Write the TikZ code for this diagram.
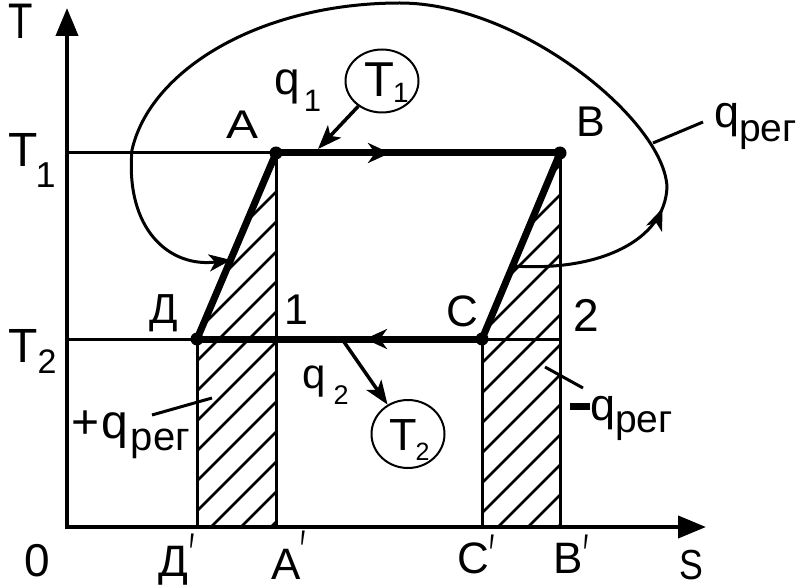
\documentclass[tikz,border=0pt]{standalone}
\usepackage{fontspec}
\setmainfont{Liberation Sans}
\usetikzlibrary{arrows.meta,decorations.markings,shapes.geometric}
\newcommand\fs[1]{\fontsize{#1}{#1}\selectfont}
\newcommand\prm[1]{\raisebox{#1}{\scalebox{0.5}[1]{\fs{56}′}}}
\begin{document}
\begin{tikzpicture}[x=1pt,y=-1pt,
  thinl/.style={line width=3pt},
  axisl/.style={line width=4pt,-{Triangle[length=28pt,width=22pt]}},
  thickl/.style={line width=7pt},
  hatchl/.style={line width=2.5pt},
  curvel/.style={line width=3pt},
  dot/.style={circle,fill=black,inner sep=0pt,minimum size=13pt},
  lbl/.style={inner sep=0pt},
  heat/.style={ellipse,draw,line width=2pt,minimum width=73pt,minimum height=63pt,inner sep=0pt},
  arr/.style={line width=3.5pt,-{Stealth[length=24pt,width=18pt,inset=6pt]}},
  midarr/.style={decoration={markings,mark=at position #1 with {\arrow{Stealth[length=22pt,width=20pt,inset=7pt]}}},postaction={decorate}},
]
\useasboundingbox (0,0) rectangle (803,588);

% points
\coordinate (O) at (67,527);
\coordinate (Tend) at (67,8);
\coordinate (Send) at (706,527);
\coordinate (Ax) at (276,153);
\coordinate (Bx) at (560,153);
\coordinate (Cx) at (482,339);
\coordinate (Dx) at (197,339);
\coordinate (Ap) at (276,527);
\coordinate (Bp) at (560,527);
\coordinate (Cp) at (482,527);
\coordinate (Dp) at (197,527);
\coordinate (T1ax) at (65,153);
\coordinate (T2ax) at (65,339);
\coordinate (P2) at (560,339);

% hatching
\begin{scope}
\clip (Ax) -- (Dx) -- (Dp) -- (Ap) -- cycle;
\foreach \c in {408,438,...,828} \draw[hatchl] ({\c},0) -- ({\c-600},600);
\end{scope}
\begin{scope}
\clip (Bx) -- (Cx) -- (Cp) -- (Bp) -- cycle;
\foreach \c in {725,755,...,1115} \draw[hatchl] ({\c},0) -- ({\c-600},600);
\end{scope}

% thin lines
\draw[thinl] (T1ax) -- (Ax);
\draw[thinl] (T2ax) -- (Dx);
\draw[thinl] (Cx) -- (P2);
\draw[thinl] (Ax) -- (Ap);
\draw[thinl] (Bx) -- (Bp);
\draw[thinl] (Cx) -- (Cp);
\draw[thinl] (Dx) -- (Dp);

% axes
\draw[axisl] (67,529) -- (Tend);
\draw[axisl] (65,527) -- (Send);

% cycle
\draw[thickl,midarr=114pt] (Ax) -- (Bx);
\draw[thickl,midarr=117pt] (Cx) -- (Dx);
\draw[thickl] (Bx) -- (Cx);
\draw[thickl] (Dx) -- (Ax);
\node[dot] (A) at (Ax) {};
\node[dot] (B) at (Bx) {};
\node[dot] (C) at (Cx) {};
\node[dot] (D) at (Dx) {};

% regeneration loop
\coordinate (R0) at (513,266);
\coordinate (R1) at (231,260);
\draw[curvel,-{Stealth[length=22pt,width=17pt,inset=6pt]},
  decoration={markings,mark=at position 170pt with {\arrow{Stealth[length=22pt,width=17pt,inset=6pt]}}},postaction={decorate}]
  (R0) .. controls (600,272) and (665,240) .. (667,187)
       .. controls (664,120) and (520,3) .. (400,3)
       .. controls (260,3) and (150,70) .. (132,150)
       .. controls (125,230) and (170,268) .. (R1);

% heat sources
\node[heat] (H1) at (382,81) {};
\node[heat,minimum height=68pt] (H2) at (408,434) {};
\coordinate (q1tip) at (318,149);
\coordinate (q2st) at (342,339);
\draw[arr] (H1) -- (q1tip);
\draw[arr] (q2st) -- (H2);
\node[lbl,anchor=base west] (lH1) at (364,97) {\fs{49}T\kern-1pt\raisebox{-6pt}{\fs{28}1}};
\node[lbl,anchor=base west] (lH2) at (389,450) {\fs{45}T\kern-1pt\raisebox{-10pt}{\fs{25}2}};

% leaders
\coordinate (L1a) at (653,143); \coordinate (L1b) at (703,122);
\coordinate (L2a) at (152,415); \coordinate (L2b) at (212,398);
\coordinate (L3a) at (545,367); \coordinate (L3b) at (583,388);
\draw[thinl] (L1a) -- (L1b);
\draw[thinl] (L2a) -- (L2b);
\draw[thinl] (L3a) -- (L3b);

% labels
\node[lbl,anchor=base west] (lT) at (8,39) {\fs{50}\scalebox{0.8}[1]{T}};
\node[lbl,anchor=base west] (lT1) at (8,167) {\fs{48}T\kern-2pt\raisebox{-21pt}{\fs{36}1}};
\node[lbl,anchor=base west] (lT2) at (8,362) {\fs{48}T\kern0pt\raisebox{-11pt}{\fs{34}2}};
\node[lbl] (lA) at (243,125) {\fs{40}\scalebox{1.2}[1]{A}};
\node[lbl] (lB) at (591,122) {\fs{43}B};
\node[lbl] (lC) at (462,311) {\fs{44}C};
\node[lbl] (lD) at (164,313) {\fs{42}Д};
\node[lbl] (l1) at (296,310) {\fs{43}1};
\node[lbl] (l2) at (586,315) {\fs{46}2};
\node[lbl,anchor=base west] (lq1) at (274,95) {\fs{46}q\kern4pt\raisebox{-17pt}{\fs{31}1}};
\node[lbl,anchor=base west] (lq2) at (302,388) {\fs{42}q\kern8pt\raisebox{-16pt}{\fs{27}2}};
\node[lbl,anchor=base west] (lqr1) at (714,128) {\fs{45}q\raisebox{-14pt}{\fs{39}рег}};
\node[lbl,anchor=base west] (lqr2) at (71,438) {\fs{48}+\kern2pt q\kern3pt\raisebox{-12pt}{\fs{40}рег}};
\node[lbl,anchor=base west] (lqr3) at (570,420) {\rule[10pt]{20pt}{7pt}\fs{45}q\raisebox{-12pt}{\fs{39}рег}};

% axis labels
\node[lbl] (l0) at (37,561) {\fs{46}0};
\node[lbl,anchor=base west] (lDp) at (158,576) {\fs{44}Д\kern1pt\prm{4pt}};
\node[lbl,anchor=base west] (lAp) at (271,579) {\fs{44}A\kern0pt\prm{10pt}};
\node[lbl,anchor=base west] (lCp) at (457,573) {\fs{44}C\kern1pt\prm{0pt}};
\node[lbl,anchor=base west] (lBp) at (553,573) {\fs{44}B\kern1pt\prm{0pt}};
\node[lbl] (lS) at (691,565) {\fs{42}\scalebox{0.85}[1]{S}};
\end{tikzpicture}
\end{document}
